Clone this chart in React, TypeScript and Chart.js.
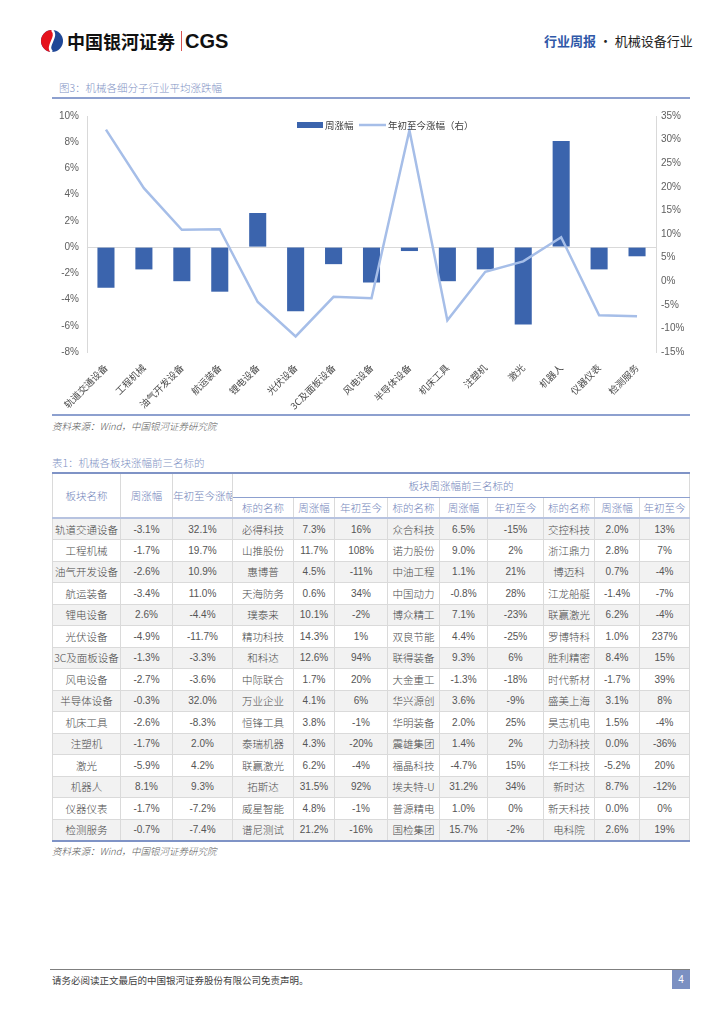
import React, { useEffect, useRef } from "react";
import { Chart, registerables } from "chart.js";

Chart.register(...registerables);

// ---------- Data ----------
const categories = [
  "轨道交通设备", "工程机械", "油气开发设备", "航运装备", "锂电设备", "光伏设备",
  "3C及面板设备", "风电设备", "半导体设备", "机床工具", "注塑机", "激光",
  "机器人", "仪器仪表", "检测服务",
];
const weeklyChange = [-3.1, -1.7, -2.6, -3.4, 2.6, -4.9, -1.3, -2.7, -0.3, -2.6, -1.7, -5.9, 8.1, -1.7, -0.7];
const ytdChange = [32.1, 19.7, 10.9, 11.0, -4.4, -11.7, -3.3, -3.6, 32.0, -8.3, 2.0, 4.2, 9.3, -7.2, -7.4];

const leftAxisMin = -8;
const leftAxisMax = 10;
const leftAxisStep = 2;
const rightAxisMin = -15;
const rightAxisMax = 35;
const rightAxisStep = 5;

const legendLabels = ["周涨幅", "年初至今涨幅（右）"];

const top1Names = ["必得科技", "山推股份", "惠博普", "天海防务", "璞泰来", "精功科技", "和科达", "中际联合", "万业企业", "恒锋工具", "泰瑞机器", "联赢激光", "拓斯达", "威星智能", "谱尼测试"];
const top1Weekly = [7.3, 11.7, 4.5, 0.6, 10.1, 14.3, 12.6, 1.7, 4.1, 3.8, 4.3, 6.2, 31.5, 4.8, 21.2];
const top1Ytd = [16, 108, -11, 34, -2, 1, 94, 20, 6, -1, -20, -4, 92, -1, -16];

const top2Names = ["众合科技", "诺力股份", "中油工程", "中国动力", "博众精工", "双良节能", "联得装备", "大金重工", "华兴源创", "华明装备", "震雄集团", "福晶科技", "埃夫特-U", "普源精电", "国检集团"];
const top2Weekly = [6.5, 9.0, 1.1, -0.8, 7.1, 4.4, 9.3, -1.3, 3.6, 2.0, 1.4, -4.7, 31.2, 1.0, 15.7];
const top2Ytd = [-15, 2, 21, 28, -23, -25, 6, -18, -9, 25, 2, 15, 34, 0, -2];

const top3Names = ["交控科技", "浙江鼎力", "博迈科", "江龙船艇", "联赢激光", "罗博特科", "胜利精密", "时代新材", "盛美上海", "昊志机电", "力劲科技", "华工科技", "新时达", "新天科技", "电科院"];
const top3Weekly = [2.0, 2.8, 0.7, -1.4, 6.2, 1.0, 8.4, -1.7, 3.1, 1.5, 0.0, -5.2, 8.7, 0.0, 2.6];
const top3Ytd = [13, 7, -4, -7, -4, 237, 15, 39, 8, -4, -36, 20, -12, 0, 19];

// ---------- Styles ----------
const BAR_COLOR = "#3b64ad";
const LINE_COLOR = "#a6bee8";
const TITLE_COLOR = "#8092c4";
const RULE_COLOR = "#8da0cf";
const CJK = '"Noto Sans CJK SC", "Noto Sans", sans-serif';
const NUM = '"Liberation Sans", "Noto Sans CJK SC", sans-serif';

const legendPlugin = {
  id: "customLegend",
  afterDraw(chart: any) {
    const ctx = chart.ctx;
    const { left, top } = chart.chartArea;
    ctx.save();
    ctx.fillStyle = BAR_COLOR;
    ctx.fillRect(left + 210, top + 6, 26, 6);
    ctx.font = `9.5px ${CJK}`;
    ctx.fillStyle = "#404040";
    ctx.textBaseline = "middle";
    ctx.textAlign = "left";
    ctx.fillText(legendLabels[0], left + 238, top + 9);
    ctx.strokeStyle = LINE_COLOR;
    ctx.lineWidth = 2.5;
    ctx.beginPath();
    ctx.moveTo(left + 272, top + 9);
    ctx.lineTo(left + 299, top + 9);
    ctx.stroke();
    ctx.fillText(legendLabels[1], left + 301, top + 9);
    ctx.restore();
  },
};

function ComboChart() {
  const ref = useRef<HTMLCanvasElement | null>(null);
  useEffect(() => {
    if (!ref.current) return;
    const chart = new Chart(ref.current, {
      type: "bar",
      data: {
        labels: categories,
        datasets: [
          {
            type: "line",
            label: legendLabels[1],
            data: ytdChange,
            yAxisID: "y1",
            borderColor: LINE_COLOR,
            backgroundColor: LINE_COLOR,
            borderWidth: 2.5,
            pointRadius: 0,
            tension: 0,
            order: 0,
          } as any,
          {
            type: "bar",
            label: legendLabels[0],
            data: weeklyChange,
            yAxisID: "y",
            backgroundColor: BAR_COLOR,
            categoryPercentage: 1,
            barPercentage: 0.45,
            order: 1,
          } as any,
        ],
      },
      options: {
        animation: false,
        responsive: true,
        maintainAspectRatio: false,
        layout: { padding: { top: 14, left: 0, right: 0, bottom: 0 } },
        plugins: { legend: { display: false }, tooltip: { enabled: false } },
        scales: {
          x: {
            grid: { display: false },
            border: { display: false },
            ticks: {
              minRotation: 45,
              maxRotation: 45,
              autoSkip: false,
              padding: 2,
              color: "#4a4a4a",
              font: { family: CJK, size: 9.5 },
            },
            afterFit: (s: any) => { s.height = 62; },
          },
          y: {
            position: "left",
            min: leftAxisMin,
            max: leftAxisMax,
            ticks: {
              stepSize: leftAxisStep,
              padding: 8,
              color: "#606060",
              font: { family: NUM, size: 10 },
              callback: (v: any) => `${v}%`,
            },
            grid: {
              drawTicks: false,
              color: (c: any) => (c.tick && c.tick.value === 0 ? "#d9d9d9" : "rgba(0,0,0,0)"),
            },
            border: { display: true, color: "#d9d9d9" },
            afterFit: (s: any) => { s.width = 47; },
          },
          y1: {
            position: "right",
            min: rightAxisMin,
            max: rightAxisMax,
            ticks: {
              stepSize: rightAxisStep,
              padding: 5,
              color: "#606060",
              font: { family: NUM, size: 10 },
              callback: (v: any) => `${v}%`,
            },
            grid: { drawOnChartArea: false, drawTicks: false },
            border: { display: true, color: "#d9d9d9" },
            afterFit: (s: any) => { s.width = 44; },
          },
        },
      } as any,
      plugins: [legendPlugin],
    });
    return () => chart.destroy();
  }, []);
  return <canvas ref={ref} />;
}

const pct1 = (v: number) => `${v.toFixed(1)}%`;
const pct0 = (v: number) => `${v}%`;

const colWidths = [68, 52, 60, 61, 41, 53, 52, 48, 56, 51, 45, 50];

function DataTable() {
  const border = "1px solid #dadada";
  const hdr: React.CSSProperties = {
    color: "#7486bb",
    fontFamily: CJK,
    fontSize: 10.5,
    fontWeight: 300,
    textAlign: "center",
    border,
    padding: 0,
    whiteSpace: "nowrap",
    overflow: "hidden",
  };
  const cell: React.CSSProperties = {
    border,
    padding: 0,
    textAlign: "center",
    color: "#555555",
    fontFamily: NUM,
    fontSize: 10,
    whiteSpace: "nowrap",
    overflow: "hidden",
  };
  const nameCell: React.CSSProperties = { ...cell, fontFamily: CJK, fontSize: 10.5, fontWeight: 300, color: "#4a4a4a" };
  return (
    <table
      style={{
        position: "absolute",
        left: 52,
        top: 472,
        width: 637,
        borderCollapse: "collapse",
        tableLayout: "fixed",
        borderTop: "2px solid #7f93c6",
        borderBottom: "2px solid #7f93c6",
      }}
    >
      <colgroup>
        {colWidths.map((w, i) => (
          <col key={i} style={{ width: w }} />
        ))}
      </colgroup>
      <thead>
        <tr style={{ height: 24 }}>
          <th rowSpan={2} style={{ ...hdr, borderBottom: "2px solid #b7c3e0", borderTop: "2px solid #7f93c6" }}>板块名称</th>
          <th rowSpan={2} style={{ ...hdr, borderBottom: "2px solid #b7c3e0", borderTop: "2px solid #7f93c6" }}>周涨幅</th>
          <th rowSpan={2} style={{ ...hdr, borderBottom: "2px solid #b7c3e0", borderTop: "2px solid #7f93c6" }}>年初至今涨幅</th>
          <th colSpan={9} style={{ ...hdr, borderBottom: "1px solid #8da0cf", borderTop: "2px solid #7f93c6" }}>板块周涨幅前三名标的</th>
        </tr>
        <tr style={{ height: 21 }}>
          {["标的名称", "周涨幅", "年初至今", "标的名称", "周涨幅", "年初至今", "标的名称", "周涨幅", "年初至今"].map((t, i) => (
            <th key={i} style={{ ...hdr, borderBottom: "2px solid #b7c3e0" }}>{t}</th>
          ))}
        </tr>
      </thead>
      <tbody>
        {categories.map((c, i) => (
          <tr key={i} style={{ height: 21.5, background: i % 2 === 0 ? "#f2f2f2" : "#ffffff" }}>
            <td style={nameCell}>{c}</td>
            <td style={cell}>{pct1(weeklyChange[i])}</td>
            <td style={cell}>{pct1(ytdChange[i])}</td>
            <td style={nameCell}>{top1Names[i]}</td>
            <td style={cell}>{pct1(top1Weekly[i])}</td>
            <td style={cell}>{pct0(top1Ytd[i])}</td>
            <td style={nameCell}>{top2Names[i]}</td>
            <td style={cell}>{pct1(top2Weekly[i])}</td>
            <td style={cell}>{pct0(top2Ytd[i])}</td>
            <td style={nameCell}>{top3Names[i]}</td>
            <td style={cell}>{pct1(top3Weekly[i])}</td>
            <td style={cell}>{pct0(top3Ytd[i])}</td>
          </tr>
        ))}
      </tbody>
    </table>
  );
}

function Logo() {
  return (
    <svg width="24" height="24" viewBox="0 0 24 24" style={{ position: "absolute", left: 40, top: 29 }}>
      <ellipse cx="12" cy="12" rx="11" ry="11" fill="#1f4797" />
      <path d="M12 1 A11 11 0 0 0 12 23 C 5 17, 19 8, 12 1 Z" fill="#e5121d" />
      <path d="M12 1 C 19 8, 5 17, 12 23" stroke="#ffffff" strokeWidth="2.4" fill="none" />
    </svg>
  );
}

export default function App() {
  const abs = (extra: React.CSSProperties): React.CSSProperties => ({ position: "absolute", ...extra });
  return (
    <div style={{ position: "absolute", left: 0, top: 0, width: 724, height: 1024, background: "#fff", overflow: "hidden" }}>
      {/* Header */}
      <Logo />
      <div style={abs({ left: 67, top: 28, fontFamily: CJK, fontWeight: 700, fontSize: 18, color: "#111", lineHeight: "26px", whiteSpace: "nowrap" })}>
        中国银河证券
      </div>
      <div style={abs({ left: 181, top: 31, width: 1, height: 20, background: "#d9534f" })} />
      <div style={abs({ left: 185, top: 28, fontFamily: NUM, fontWeight: 700, fontSize: 20, color: "#111", lineHeight: "26px" })}>
        CGS
      </div>
      <div style={abs({ left: 544, top: 32, fontFamily: CJK, fontSize: 13, lineHeight: "18px", whiteSpace: "nowrap", color: "#222" })}>
        <span style={{ color: "#2f58a8", fontWeight: 700 }}>行业周报</span>
        <span> · 机械设备行业</span>
      </div>

      {/* Figure title */}
      <div style={abs({ left: 59, top: 80, fontFamily: CJK, fontSize: 10.5, fontWeight: 300, color: TITLE_COLOR, lineHeight: "16px", whiteSpace: "nowrap" })}>
        图3：机械各细分子行业平均涨跌幅
      </div>
      <div style={abs({ left: 52, top: 97, width: 638, height: 1.5, background: RULE_COLOR })} />

      {/* Chart */}
      <div style={abs({ left: 40, top: 102, width: 660, height: 312 })}>
        <ComboChart />
      </div>
      <div style={abs({ left: 52, top: 414, width: 638, height: 1.5, background: RULE_COLOR })} />
      <div style={abs({ left: 52, top: 418, fontFamily: CJK, fontSize: 9.5, fontWeight: 300, fontStyle: "italic", color: "#595959", lineHeight: "16px", whiteSpace: "nowrap" })}>
        资料来源：Wind，中国银河证券研究院
      </div>

      {/* Table */}
      <div style={abs({ left: 52, top: 455, fontFamily: CJK, fontSize: 10.5, fontWeight: 300, color: TITLE_COLOR, lineHeight: "16px", whiteSpace: "nowrap" })}>
        表1：机械各板块涨幅前三名标的
      </div>
      <DataTable />
      <div style={abs({ left: 52, top: 843, fontFamily: CJK, fontSize: 9.5, fontWeight: 300, fontStyle: "italic", color: "#595959", lineHeight: "16px", whiteSpace: "nowrap" })}>
        资料来源：Wind，中国银河证券研究院
      </div>

      {/* Footer */}
      <div style={abs({ left: 50, top: 969, width: 640, height: 1, background: "#7f7f7f" })} />
      <div style={abs({ left: 52, top: 972, fontFamily: CJK, fontSize: 9.5, color: "#404040", lineHeight: "16px", whiteSpace: "nowrap" })}>
        请务必阅读正文最后的中国银河证券股份有限公司免责声明。
      </div>
      <div style={abs({ left: 672, top: 970, width: 18, height: 19, background: "#7b90c2", color: "#fff", fontFamily: NUM, fontSize: 10, textAlign: "center", lineHeight: "19px" })}>
        4
      </div>
    </div>
  );
}
